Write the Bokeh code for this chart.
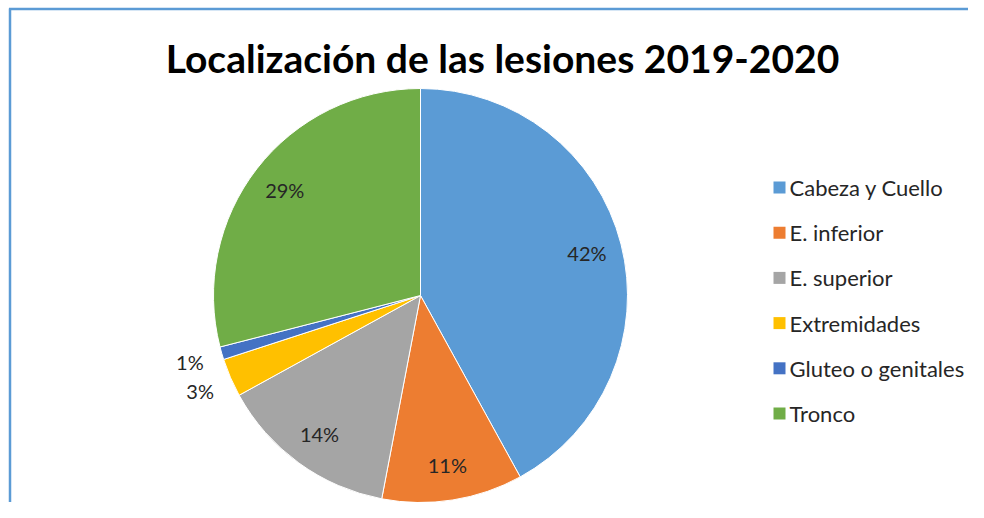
import math
from bokeh.plotting import figure
from bokeh.models import Range1d, ColumnDataSource
from bokeh.core.properties import value
from bokeh.embed import file_html
from bokeh.resources import INLINE

title_text = "Localización de las lesiones 2019-2020"
categories = ["Cabeza y Cuello", "E. inferior", "E. superior", "Extremidades",
              "Gluteo o genitales", "Tronco"]
shares = [42, 11, 14, 3, 1, 29]
colors = ["#5B9BD5", "#ED7D31", "#A5A5A5", "#FFC000", "#4472C4", "#70AD47"]

W, H = 968, 502
FONT = "Lato"

p = figure(width=W, height=H, output_backend="svg", toolbar_location=None,
           x_range=Range1d(0, W), y_range=Range1d(0, H), min_border=0)
p.axis.visible = False
p.grid.visible = False
p.outline_line_color = None
p.background_fill_color = "white"

cx, cy, r = 420, 502 - 295, 207
total = float(sum(shares))
starts, ends, lx, ly, labels = [], [], [], [], []
cum = 0.0
for v in shares:
    a0 = cum / total
    cum += v
    a1 = cum / total
    starts.append(math.pi / 2 - a1 * 2 * math.pi)
    ends.append(math.pi / 2 - a0 * 2 * math.pi)
    mid = math.pi / 2 - (a0 + a1) / 2 * 2 * math.pi
    f = 1.16 if v < 5 else 0.83
    lx.append(cx + f * r * math.cos(mid))
    ly.append(cy + f * r * math.sin(mid))
    labels.append(f"{v:.0f}%")

src = ColumnDataSource(dict(start=starts, end=ends, color=colors))
p.wedge(x=cx, y=cy, radius=r, start_angle="start", end_angle="end",
        fill_color="color", line_color="#FFFFFF", line_width=1, source=src)

p.text(x=lx, y=ly, text=labels, text_font=value(FONT), text_font_size="20px",
       text_color="#262626", text_align="center", text_baseline="middle")

# title
p.text(x=[502], y=[502 - 57], text=[title_text], text_font=value(FONT),
       text_font_size="39px", text_font_style="bold", text_color="#000000",
       text_align="center", text_baseline="middle")

# legend
lgx = 779
lgy = [502 - 187 - 45.2 * i for i in range(len(categories))]
p.scatter(x=[lgx] * len(categories), y=lgy, marker="square", size=12,
          fill_color=colors, line_color=None)
p.text(x=[lgx + 10] * len(categories), y=lgy, text=categories,
       text_font=value(FONT), text_font_size="22px", text_color="#262626",
       text_align="left", text_baseline="middle")

# chart border (left, top)
bc = "#5B9BD5"
p.line(x=[9.5, 9.5], y=[0, H - 8], line_color=bc, line_width=2.5)
p.line(x=[8.5, W], y=[H - 8.5, H - 8.5], line_color=bc, line_width=2.5)

open("out.html", "w").write(file_html(p, INLINE))
